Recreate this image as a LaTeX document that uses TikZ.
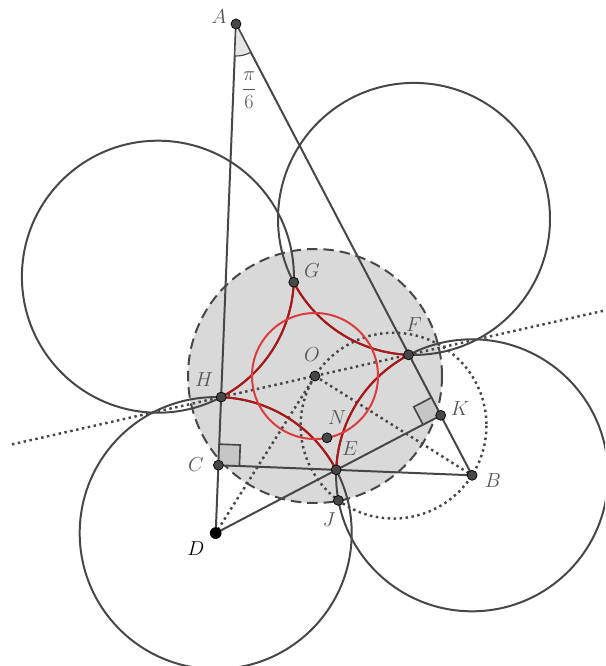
\documentclass[tikz,border=0pt]{standalone}
\usepackage{tikz}
\usetikzlibrary{calc}
\definecolor{inkgray}{HTML}{474747}
\definecolor{labelgray}{HTML}{555555}
\definecolor{diskgray}{HTML}{D9D9D9}
\definecolor{markgray}{HTML}{C6C6C6}
\definecolor{arcred}{HTML}{B01414}
\definecolor{ringred}{HTML}{DC3C3C}

\begin{document}
\begin{tikzpicture}[
    x=0.03cm, y=-0.03cm,
    every node/.style={font=\fontsize{17}{20}\selectfont, text=labelgray},
    ink/.style={draw=inkgray, line width=1.7pt},
    dotline/.style={draw=inkgray, line width=2.1pt, dash pattern=on 2.1pt off 3pt},
    disk/.style={fill=diskgray, draw=inkgray, line width=1.7pt, dash pattern=on 9pt off 5pt},
    redarc/.style={draw=arcred, line width=1.7pt},
    ring/.style={draw=ringred, line width=1.7pt},
    rmark/.style={draw=inkgray, fill=markgray, line width=1.4pt},
    pt/.style={circle, fill=inkgray, draw=black, line width=0.6pt, inner sep=0pt, minimum size=8.5pt},
    ptblack/.style={circle, fill=black, inner sep=0pt, minimum size=10pt}
]
\clip (0,0) rectangle (605,666);

% --- points ---
\coordinate (O) at (315,376);
\coordinate (Ctl) at (157.9,276.7);
\coordinate (Ctr) at (414.0,218.9);
\coordinate (B) at (472.1,475.3);
\coordinate (D) at (215.7,533.1);
\coordinate (A) at (236,24);
\coordinate (G) at (293.8,282.2);
\coordinate (F) at (408.5,354.8);
\coordinate (E) at (336.2,469.8);
\coordinate (H) at (221.2,397.1);
\coordinate (C) at ($(A)!(B)!(D)$);
\coordinate (K) at ($(A)!(D)!(B)$);
\coordinate (J) at (338.4,500.4);
\coordinate (N) at (327,437.8);
\coordinate (M) at ($(O)!0.5!(B)$);
\coordinate (L1) at ($(H)!-1.117!(F)$);
\coordinate (L2) at ($(H)!2.2!(F)$);

% --- shaded disk ---
\draw[disk] (O) circle (127);

% --- four circles ---
\draw[ink] (Ctl) circle (136);
\draw[ink] (Ctr) circle (136);
\draw[ink] (B) circle (136);
\draw[ink] (D) circle (136);

% --- triangle and feet ---
\draw[ink] (A) -- (D);
\draw[ink] (A) -- (B);
\draw[ink] (C) -- (B);
\draw[ink] (D) -- (K);

% --- dotted lines ---
\draw[dotline] (L1) -- (L2);
\draw[dotline] (O) -- (B);
\draw[dotline] (O) -- (D);
\draw[dotline] (M) circle (92.9);

% --- red arcs ---
\draw[redarc] (G) arc[start angle=2.3, end angle=62.3, radius=136];
\draw[redarc] (F) arc[start angle=92.3, end angle=152.3, radius=136];
\draw[redarc] (E) arc[start angle=182.3, end angle=242.3, radius=136];
\draw[redarc] (H) arc[start angle=272.3, end angle=332.3, radius=136];
\draw[ring] (O) circle (63);

% --- right angles ---
\coordinate (ca) at ($(C)!0.63cm!(A)$);
\coordinate (cb) at ($(C)!0.63cm!(B)$);
\draw[rmark] (C) -- (ca) -- ($(ca)+(cb)-(C)$) -- (cb) -- cycle;
\coordinate (ka) at ($(K)!0.6cm!(A)$);
\coordinate (kd) at ($(K)!0.6cm!(D)$);
\draw[rmark] (K) -- (ka) -- ($(ka)+(kd)-(K)$) -- (kd) -- cycle;

% --- angle at A ---
\draw[draw=inkgray, fill=gray!20, line width=1pt] (A) -- ++(62.4:32) arc[start angle=62.4, end angle=92.3, radius=32] -- cycle;
\node (lpi) at (249,90) {$\displaystyle\frac{\pi}{6}$};

% --- dots ---
\node[pt] (pA) at (A) {};
\node[pt] (pB) at (B) {};
\node[pt] (pC) at (C) {};
\node[ptblack] (pD) at (D) {};
\node[pt] (pE) at (E) {};
\node[pt] (pF) at (F) {};
\node[pt] (pG) at (G) {};
\node[pt] (pH) at (H) {};
\node[pt] (pJ) at (J) {};
\node[pt] (pK) at (K) {};
\node[pt] (pN) at (N) {};
\node[pt] (pO) at (O) {};

% --- labels ---
\node (lA) at (219,17) {$A$};
\node (lB) at (493,481) {$B$};
\node (lC) at (196,465) {$C$};
\node[text=black] (lD) at (196,549) {$D$};
\node (lE) at (350,449) {$E$};
\node (lF) at (414,325) {$F$};
\node (lG) at (312,271) {$G$};
\node (lH) at (204,380) {$H$};
\node (lJ) at (329,520) {$J$};
\node (lK) at (460,409) {$K$};
\node (lN) at (337,418) {$N$};
\node (lO) at (312,355) {$O$};
\end{tikzpicture}
\end{document}
